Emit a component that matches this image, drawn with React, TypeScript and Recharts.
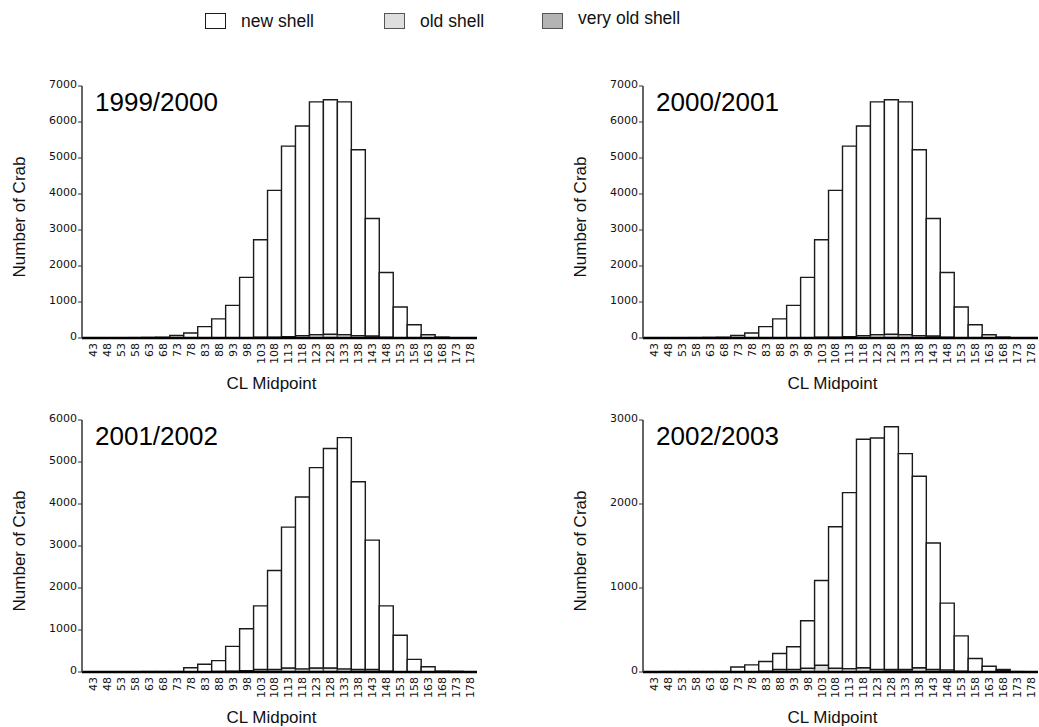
import React from "react";
import { BarChart, Bar, XAxis, YAxis } from "recharts";

// CL midpoint bins (mm)
const midpoints = [
  "43", "48", "53", "58", "63", "68", "73", "78", "83", "88", "93", "98", "103", "108",
  "113", "118", "123", "128", "133", "138", "143", "148", "153", "158", "163", "168", "173", "178",
];

// 1999/2000
const newShell9900 = [0, 0, 0, 10, 15, 20, 70, 140, 315, 530, 900, 1675, 2710, 4075, 5295, 5825, 6465, 6515, 6465, 5165, 3265, 1800, 850, 370, 90, 25, 0, 0];
const oldShell9900 = [0, 0, 0, 0, 0, 0, 0, 0, 0, 0, 5, 10, 20, 25, 35, 60, 90, 100, 90, 60, 55, 20, 10, 0, 0, 0, 0, 0];
const veryOldShell9900 = [0, 0, 0, 0, 0, 0, 0, 0, 0, 0, 0, 0, 0, 0, 0, 5, 5, 5, 5, 5, 0, 0, 0, 0, 0, 0, 0, 0];

// 2000/2001
const newShell0001 = [0, 0, 0, 10, 15, 20, 70, 140, 315, 530, 900, 1675, 2710, 4075, 5295, 5825, 6465, 6515, 6465, 5165, 3265, 1800, 850, 370, 90, 25, 0, 0];
const oldShell0001 = [0, 0, 0, 0, 0, 0, 0, 0, 0, 0, 5, 10, 20, 25, 35, 60, 90, 100, 90, 60, 55, 20, 10, 0, 0, 0, 0, 0];
const veryOldShell0001 = [0, 0, 0, 0, 0, 0, 0, 0, 0, 0, 0, 0, 0, 0, 0, 5, 5, 5, 5, 5, 0, 0, 0, 0, 0, 0, 0, 0];

// 2001/2002
const newShell0102 = [0, 0, 0, 0, 10, 10, 10, 90, 175, 255, 590, 1000, 1515, 2355, 3355, 4090, 4770, 5225, 5505, 4470, 3080, 1555, 865, 300, 125, 20, 15, 0];
const oldShell0102 = [0, 0, 0, 0, 0, 0, 0, 10, 10, 15, 20, 30, 60, 60, 90, 70, 90, 90, 70, 60, 60, 20, 10, 0, 0, 0, 0, 0];
const veryOldShell0102 = [0, 0, 0, 0, 0, 0, 0, 0, 0, 0, 0, 0, 0, 0, 5, 5, 5, 5, 5, 0, 0, 0, 0, 0, 0, 0, 0, 0];

// 2002/2003
const newShell0203 = [0, 5, 5, 5, 5, 5, 55, 80, 115, 190, 270, 565, 1010, 1685, 2095, 2720, 2755, 2890, 2570, 2280, 1505, 795, 420, 155, 68, 15, 5, 0];
const oldShell0203 = [0, 0, 0, 0, 0, 0, 5, 5, 10, 30, 30, 45, 80, 45, 40, 45, 25, 15, 15, 45, 30, 25, 10, 5, 0, 5, 0, 0];
const veryOldShell0203 = [0, 0, 0, 0, 0, 0, 0, 0, 0, 0, 0, 0, 0, 0, 0, 5, 5, 15, 15, 5, 0, 0, 0, 0, 0, 10, 0, 0];

const ticks7000 = [0, 1000, 2000, 3000, 4000, 5000, 6000, 7000];
const ticks6000 = [0, 1000, 2000, 3000, 4000, 5000, 6000];
const ticks3000 = [0, 1000, 2000, 3000];

const SERIES = [
  { key: "veryOld", name: "very old shell", fill: "#b4b4b4", stroke: "#555" },
  { key: "old", name: "old shell", fill: "#dedede", stroke: "#555" },
  { key: "new", name: "new shell", fill: "#ffffff", stroke: "#1a1a1a" },
];
const LEGEND_ORDER = ["new", "old", "veryOld"];
const LEGEND_X = [205, 384, 542];

function rows(n: number[], o: number[], v: number[]) {
  return midpoints.map((m, i) => ({ mid: m, new: n[i], old: o[i], veryOld: v[i] }));
}

const PANELS = [
  { title: "1999/2000", data: rows(newShell9900, oldShell9900, veryOldShell9900), ticks: ticks7000, left: 0, top: 60 },
  { title: "2000/2001", data: rows(newShell0001, oldShell0001, veryOldShell0001), ticks: ticks7000, left: 561, top: 60 },
  { title: "2001/2002", data: rows(newShell0102, oldShell0102, veryOldShell0102), ticks: ticks6000, left: 0, top: 394 },
  { title: "2002/2003", data: rows(newShell0203, oldShell0203, veryOldShell0203), ticks: ticks3000, left: 561, top: 394 },
];

const TICK_FONT = "'DejaVu Sans', Verdana, sans-serif";
const LABEL_FONT = "'Liberation Sans', Arial, sans-serif";

function MidTick({ x, y, payload }: any) {
  return (
    <text
      x={x}
      y={y}
      dy="0.36em"
      transform={`rotate(-90, ${x}, ${y})`}
      textAnchor="end"
      fontSize={11}
      fontFamily={TICK_FONT}
      fill="#111"
    >
      {payload.value}
    </text>
  );
}

function Panel({ title, data, ticks, left, top }: (typeof PANELS)[number]) {
  const max = ticks[ticks.length - 1];
  return (
    <div style={{ position: "absolute", left, top, width: 478, height: 338 }}>
      <BarChart
        width={478}
        height={338}
        data={data}
        margin={{ top: 26, right: 1, bottom: 0, left: 0 }}
        barCategoryGap={0}
        barGap={0}
      >
        <XAxis
          dataKey="mid"
          interval={0}
          height={60}
          padding={{ left: 4, right: 0 }}
          tickLine={false}
          tickSize={0}
          tickMargin={5}
          tick={<MidTick />}
          axisLine={{ stroke: "#000", strokeWidth: 2.5 }}
          label={({ viewBox }: any) => (
            <text
              x={(viewBox?.x ?? 82) + (viewBox?.width ?? 395) / 2 - 8}
              y={(viewBox?.y ?? 278) + 51}
              textAnchor="middle"
              fontSize={17}
              fontFamily={LABEL_FONT}
              fill="#111"
            >
              CL Midpoint
            </text>
          )}
        />
        <YAxis
          width={82}
          domain={[0, max]}
          ticks={ticks}
          interval={0}
          tickSize={4}
          tickMargin={1}
          axisLine={{ stroke: "#333", strokeWidth: 1.5 }}
          tickLine={{ stroke: "#333" }}
          tick={{ fontSize: 11, fontFamily: TICK_FONT, fill: "#111", dy: -2 }}
          label={({ viewBox }: any) => {
            const cy = (viewBox?.y ?? 26) + (viewBox?.height ?? 252) / 2 + 5;
            return (
              <text
                x={19}
                y={cy}
                dy="0.35em"
                transform={`rotate(-90, 19, ${cy})`}
                textAnchor="middle"
                fontSize={17}
                fontFamily={LABEL_FONT}
                fill="#111"
              >
                Number of Crab
              </text>
            );
          }}
        />
        {SERIES.map((s) => (
          <Bar
            key={s.key}
            dataKey={s.key}
            name={s.name}
            stackId="shell"
            fill={s.fill}
            stroke={s.stroke}
            strokeWidth={1.4}
            isAnimationActive={false}
          />
        ))}
      </BarChart>
      <div
        style={{
          position: "absolute",
          left: 95,
          top: 29,
          fontFamily: LABEL_FONT,
          fontSize: 26,
          lineHeight: "26px",
          color: "#000",
          whiteSpace: "nowrap",
        }}
      >
        {title}
      </div>
    </div>
  );
}

export default function App() {
  return (
    <div
      style={{
        position: "absolute",
        left: 0,
        top: 0,
        width: 1039,
        height: 727,
        background: "#fff",
        fontFamily: LABEL_FONT,
        overflow: "hidden",
      }}
    >
      {LEGEND_ORDER.map((k, i) => {
        const s = SERIES.find((x) => x.key === k)!;
        return (
          <div key={k} style={{ position: "absolute", left: LEGEND_X[i], top: 12, height: 18, whiteSpace: "nowrap" }}>
            <span
              style={{
                position: "absolute",
                left: 0,
                top: 1,
                width: 19,
                height: 14,
                background: s.fill,
                border: `1px solid ${s.stroke}`,
              }}
            />
            <span
              style={{
                position: "absolute",
                left: 36,
                top: k === "veryOld" ? -3 : 0,
                fontSize: 17.5,
                lineHeight: "18px",
                color: "#111",
              }}
            >
              {s.name}
            </span>
          </div>
        );
      })}
      {PANELS.map((p) => (
        <Panel key={p.title} {...p} />
      ))}
    </div>
  );
}
